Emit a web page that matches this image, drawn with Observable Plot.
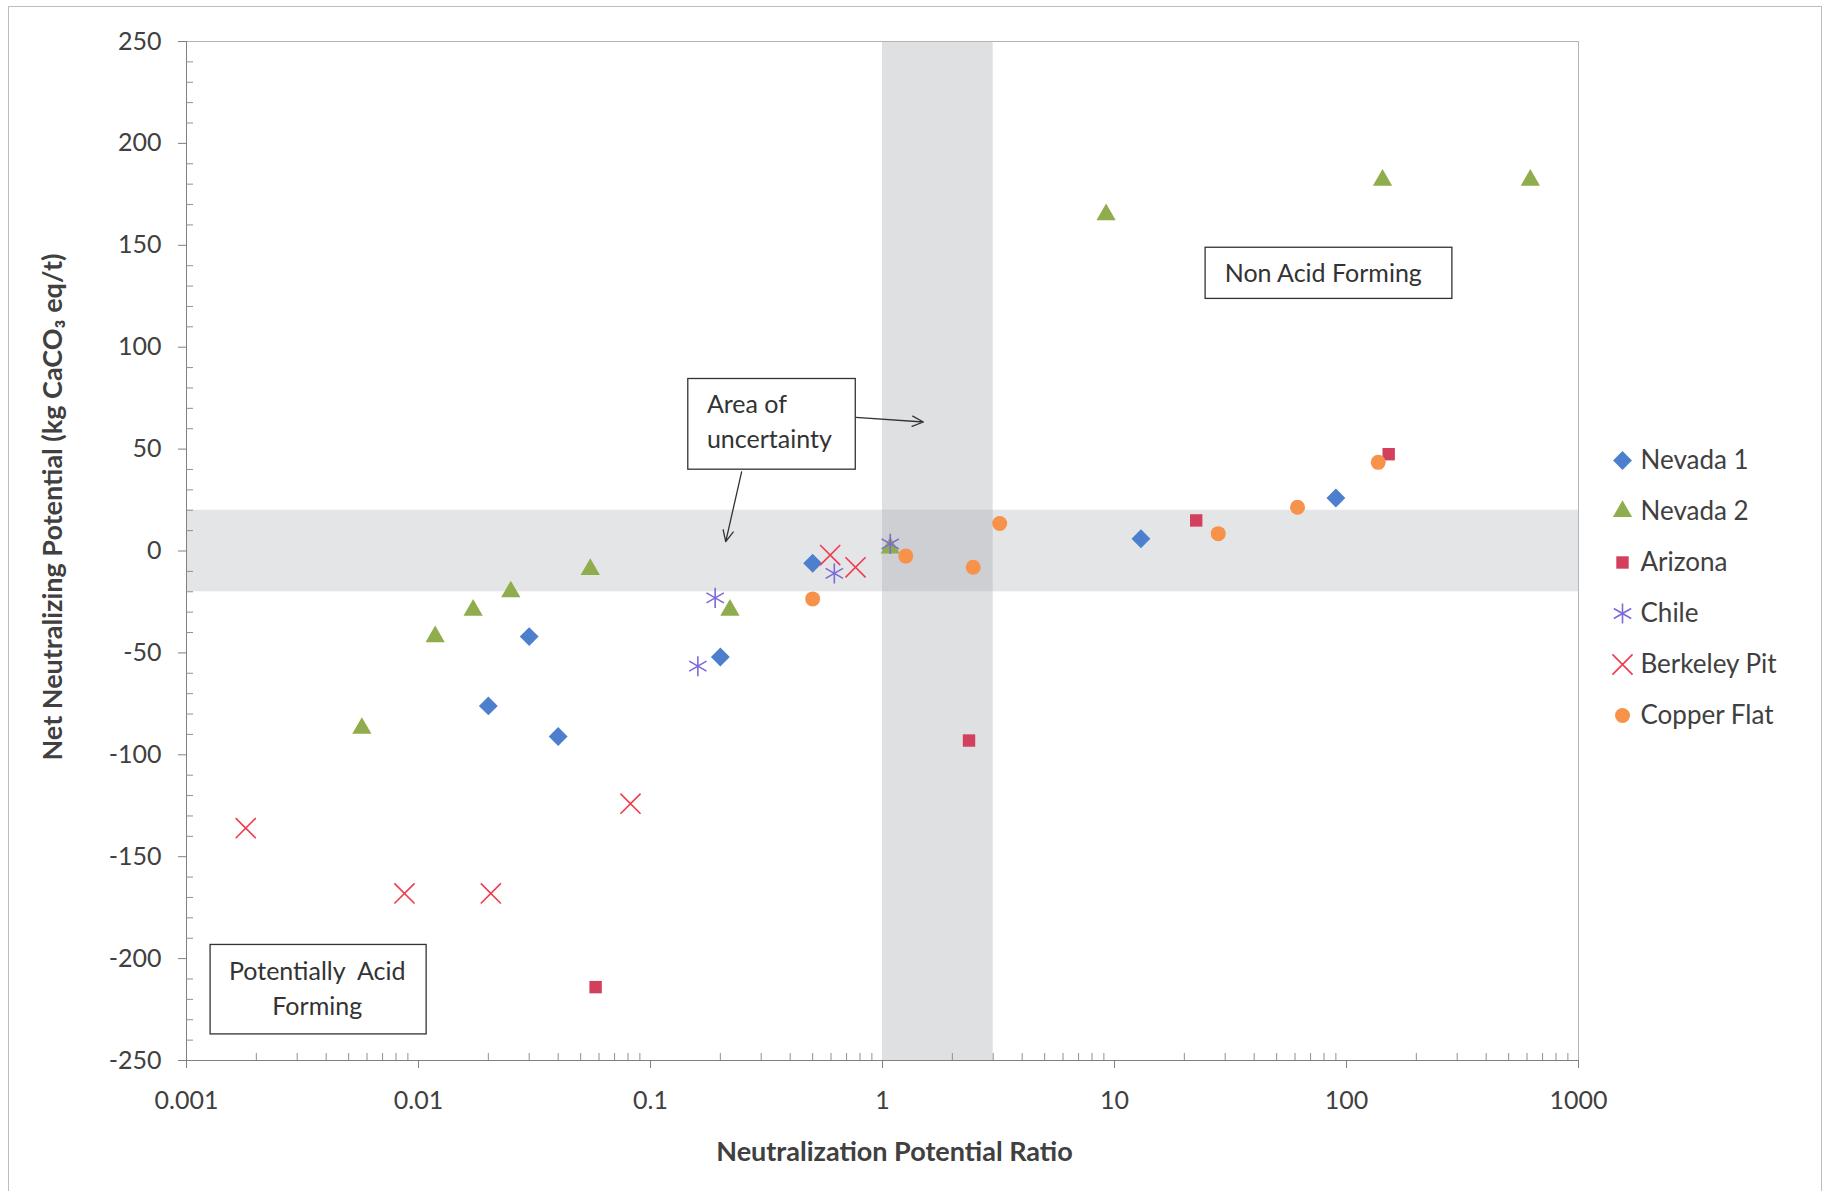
<!DOCTYPE html>
<html><head><meta charset="utf-8">
<script src="https://cdn.jsdelivr.net/npm/d3@7"></script>
<script src="https://cdn.jsdelivr.net/npm/@observablehq/plot@0.6"></script>
<style>
body{margin:0;background:#fff;}
#wrap{position:relative;width:1823px;height:1191px;overflow:hidden;background:#fff;}
#border{position:absolute;left:8px;top:6px;width:1812px;height:1220px;border:1px solid #bdbdbd;pointer-events:none;}
#legend{position:absolute;left:1600px;top:430px;}
</style></head><body>
<div id="wrap"><div id="chart"></div><div id="legend"></div><div id="border"></div></div>
<script>
// ---- Data ----
const seriesNames = ["Nevada 1", "Nevada 2", "Arizona", "Chile", "Berkeley Pit", "Copper Flat"];

const nevada1NPR = [0.5, 0.2, 0.03, 0.02, 0.04, 13, 90];
const nevada1NNP = [-6, -52, -42, -76, -91, 6, 26];

const nevada2NPR = [0.0057, 0.0118, 0.0172, 0.025, 0.055, 0.22, 1.08, 9.2, 143, 620];
const nevada2NNP = [-87, -42, -29, -20, -9, -29, 1.5, 165, 182, 182];

const arizonaNPR = [0.058, 2.36, 22.5, 152];
const arizonaNNP = [-214, -93, 15, 47.5];

const chileNPR = [0.16, 0.19, 0.62, 1.08];
const chileNNP = [-56.5, -23, -11, 3.5];

const berkeleyNPR = [0.0018, 0.0087, 0.0205, 0.082, 0.595, 0.765];
const berkeleyNNP = [-136, -168, -168, -124, -2, -8];

const copperNPR = [0.5, 1.26, 2.46, 3.2, 28, 61.5, 137];
const copperNNP = [-23.5, -2.5, -8, 13.5, 8.5, 21.5, 43.5];

const seriesNPR = [nevada1NPR, nevada2NPR, arizonaNPR, chileNPR, berkeleyNPR, copperNPR];
const seriesNNP = [nevada1NNP, nevada2NNP, arizonaNNP, chileNNP, berkeleyNNP, copperNNP];

// Uncertainty bands (NNP between -20 and 20, NPR between 1 and 3)
const nnpBand = [{x1: 0.001, x2: 1000, y1: -20, y2: 20}];
const nprBand = [{x1: 1, x2: 3, y1: -250, y2: 250}];

// Annotation boxes, texts and arrows (data coordinates)
const boxes = [
  {x1: 24.7, x2: 286, y1: 123.7, y2: 148.8},
  {x1: 0.1455, x2: 0.767, y1: 39.9, y2: 84.4},
  {x1: 0.00127, x2: 0.01084, y1: -237.2, y2: -193.3}
];
const centeredNotes = [
  {x: 79.4, y: 137.3, text: "Non Acid Forming"},
  {x: 0.00366, y: -213.8, text: "Potentially  Acid\nForming"}
];
const leftNotes = [
  {x: 0.175, y: 64.5, text: "Area of\nuncertainty"}
];
const arrows = [
  {x1: 0.767, y1: 65.6, x2: 1.5, y2: 63.3},
  {x1: 0.247, y1: 38.8, x2: 0.211, y2: 4.6}
];

// Ticks
const xTicks = [0.001, 0.01, 0.1, 1, 10, 100, 1000];
const xMinor = [0.001, 0.01, 0.1, 1, 10, 100].flatMap(d => [2,3,4,5,6,7,8,9].map(k => k * d));
const yTicks = [-250, -200, -150, -100, -50, 0, 50, 100, 150, 200, 250];
const yMinor = d3.range(-240, 250, 10).filter(d => d % 50 !== 0);

// ---- Styles ----
const seriesColors = ["#4c7fce", "#8fad4c", "#d2405e", "#7b6bd8", "#f23a4e", "#f7924a"];
const seriesSymbols = ["diamond2", "triangle2", "square", "asterisk", "times", "circle"];
const seriesR = [8.5, 9.2, 7, 9.5, 9.2, 7.5];
const seriesFilled = [true, true, true, false, false, true];

const font = "Lato, 'Open Sans', 'DejaVu Sans', sans-serif";

function dotMark(i, data, extra = {}) {
  const base = {symbol: seriesSymbols[i], r: seriesR[i], ...extra};
  if (seriesFilled[i]) return Plot.dot(data, {...base, fill: seriesColors[i], stroke: "none"});
  return Plot.dot(data, {...base, fill: "none", stroke: seriesColors[i], strokeWidth: 1.6});
}

const tables = seriesNames.map((name, i) => seriesNPR[i].map((x, j) => ({name, x, y: seriesNNP[i][j]})));

const chart = Plot.plot({
  width: 1823, height: 1191,
  marginLeft: 186, marginRight: 245, marginTop: 41, marginBottom: 131,
  style: {fontFamily: font, background: "white", color: "#404040"},
  x: {type: "log", domain: [0.001, 1000]},
  y: {domain: [-250, 250]},
  marks: [
    Plot.rect(nnpBand, {x1: "x1", x2: "x2", y1: "y1", y2: "y2", fill: "#a3a5ac", fillOpacity: 0.29}),
    Plot.rect(nprBand, {x1: "x1", x2: "x2", y1: "y1", y2: "y2", fill: "#a3a5ac", fillOpacity: 0.35}),
    Plot.frame({stroke: "#b4b4b4"}),
    Plot.ruleX([0.001], {stroke: "#808080"}),
    Plot.ruleY([-250], {stroke: "#808080"}),
    Plot.axisY(yTicks, {tickSize: 8, tickPadding: 17, fontSize: 25, stroke: "#808080", fill: "#404040", label: null, tickFormat: d => String(d)}),
    Plot.axisY(yMinor, {tickSize: -7, fill: "none", stroke: "#909090", label: null}),
    Plot.axisX(xTicks, {tickSize: 8, tickPadding: 23, fontSize: 25, stroke: "#808080", fill: "#404040", label: null, tickFormat: d => String(d)}),
    Plot.axisX(xMinor, {tickSize: -7, fill: "none", stroke: "#909090", label: null}),
    Plot.rect(boxes, {x1: "x1", x2: "x2", y1: "y1", y2: "y2", fill: "white", stroke: "#333", strokeWidth: 1.3}),
    Plot.text(centeredNotes, {x: "x", y: "y", text: "text", textAnchor: "middle", lineHeight: 1.4, fontSize: 25, fill: "#333"}),
    Plot.text(leftNotes, {x: "x", y: "y", text: "text", textAnchor: "start", lineHeight: 1.4, fontSize: 25, fill: "#333"}),
    Plot.arrow(arrows, {x1: "x1", y1: "y1", x2: "x2", y2: "y2", stroke: "#333", strokeWidth: 1.3, headLength: 14, headAngle: 50}),
    ...tables.map((t, i) => dotMark(i, t, {x: "x", y: "y"})),
    Plot.text(["Net Neutralizing Potential (kg CaCO\u2083 eq/t)"], {text: d => d, frameAnchor: "left", textAnchor: "middle", rotate: -90, dx: -133, dy: -44, fontSize: 27, fontWeight: "bold", fill: "#404040"}),
    Plot.text(["Neutralization Potential Ratio"], {text: d => d, frameAnchor: "bottom", textAnchor: "middle", dx: 12, dy: 100, fontSize: 27, fontWeight: "bold", fill: "#404040"})
  ]
});
document.getElementById("chart").appendChild(chart);

const legend = Plot.plot({
  width: 220, height: 300,
  marginTop: 0, marginBottom: 0, marginRight: 0, marginLeft: 22,
  style: {fontFamily: font, background: "transparent"},
  y: {type: "point", domain: seriesNames, range: [29, 286], padding: 0, axis: null},
  marks: [
    ...seriesNames.map((name, i) => dotMark(i, [name], {y: d => d, frameAnchor: "left"})),
    Plot.text(seriesNames, {y: d => d, text: d => d, frameAnchor: "left", dx: 18, textAnchor: "start", fontSize: 26, fill: "#404040"})
  ]
});
document.getElementById("legend").appendChild(legend);
</script>
</body></html>
